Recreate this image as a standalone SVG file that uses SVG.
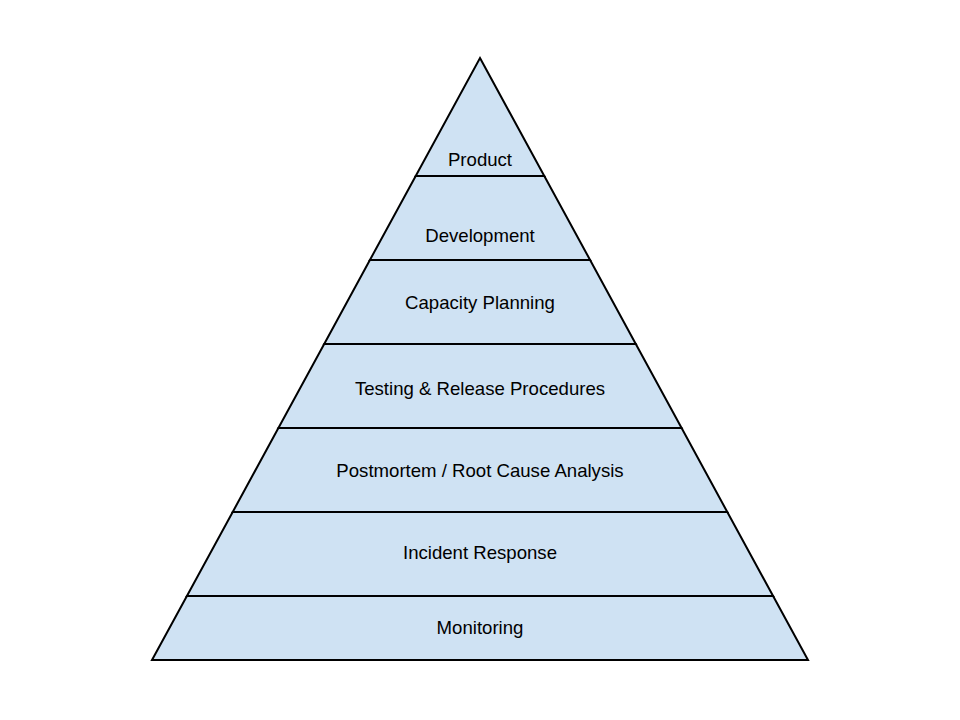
<svg xmlns="http://www.w3.org/2000/svg" width="960" height="720" viewBox="0 0 960 720">
<style>
.layer{fill:#cfe2f3;stroke:#000;stroke-width:2;stroke-linejoin:miter}
.lbl{font-family:"Liberation Sans",Arial,sans-serif;font-size:18.6px;fill:#000;text-anchor:middle}
</style>
<rect width="960" height="720" fill="#fff"/>
<g id="product"><polygon class="layer" points="480,58 544.3,176 415.7,176"/><text class="lbl" x="480" y="166">Product</text></g>
<g id="development"><polygon class="layer" points="415.7,176 544.3,176 590.1,260 369.9,260"/><text class="lbl" x="480" y="242">Development</text></g>
<g id="capacity"><polygon class="layer" points="369.9,260 590.1,260 635.8,344 324.2,344"/><text class="lbl" x="480" y="309">Capacity Planning</text></g>
<g id="testing"><polygon class="layer" points="324.2,344 635.8,344 681.6,428 278.4,428"/><text class="lbl" x="480" y="395">Testing &amp; Release Procedures</text></g>
<g id="postmortem"><polygon class="layer" points="278.4,428 681.6,428 727.3,512 232.7,512"/><text class="lbl" x="480" y="477">Postmortem / Root Cause Analysis</text></g>
<g id="incident"><polygon class="layer" points="232.7,512 727.3,512 773.1,596 186.9,596"/><text class="lbl" x="480" y="559">Incident Response</text></g>
<g id="monitoring"><polygon class="layer" points="186.9,596 773.1,596 808,660 152,660"/><text class="lbl" x="480" y="634">Monitoring</text></g>
<g id="connectors"></g>
</svg>
